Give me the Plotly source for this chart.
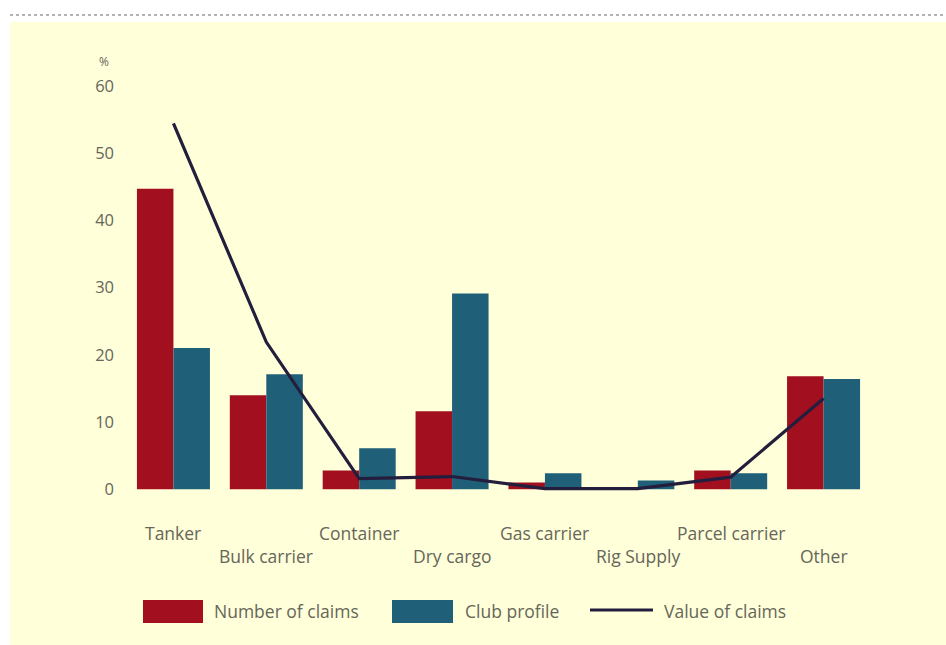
import plotly.graph_objects as go

# Claims by vessel type, per cent
categories = ["Tanker", "Bulk carrier", "Container", "Dry cargo",
              "Gas carrier", "Rig Supply", "Parcel carrier", "Other"]
number_of_claims = [44.7, 14.0, 2.8, 11.6, 1.0, 0.3, 2.8, 16.8]
club_profile = [21.0, 17.1, 6.1, 29.1, 2.4, 1.3, 2.4, 16.4]
value_of_claims = [54.4, 21.9, 1.6, 1.9, 0.1, 0.1, 1.8, 13.5]
y_ticks = [0, 10, 20, 30, 40, 50, 60]

W, H = 946, 645
L, R, T, B = 127, 76, 71, 153
PW, PH = W - L - R, H - T - B

RED = "#A20F1F"
TEAL = "#1F5F78"
NAVY = "#241E3E"
BG = "#FFFFD9"
TXT = "#66665A"
FONT = "Open Sans"


def px(x):
    return (x - L) / PW


def py(y):
    return (H - B - y) / PH


fig = go.Figure()
fig.add_trace(go.Bar(x=categories, y=number_of_claims, name="Number of claims",
                     marker=dict(color=RED, line=dict(width=0))))
fig.add_trace(go.Bar(x=categories, y=club_profile, name="Club profile",
                     marker=dict(color=TEAL, line=dict(width=0))))
fig.add_trace(go.Scatter(x=categories, y=value_of_claims, name="Value of claims",
                         mode="lines", line=dict(color=NAVY, width=3.2)))

shapes = [
    # white strips around the cream page
    dict(type="rect", xref="paper", yref="paper", x0=px(-5), x1=px(W + 5),
         y0=py(22), y1=py(-5), fillcolor="white", line=dict(width=0), layer="below"),
    dict(type="rect", xref="paper", yref="paper", x0=px(-5), x1=px(10),
         y0=py(H + 5), y1=py(-5), fillcolor="white", line=dict(width=0), layer="below"),
    # dotted rule along the top
    dict(type="line", xref="paper", yref="paper", x0=px(10), x1=px(W),
         y0=py(15), y1=py(15), line=dict(color="#9A9A9A", width=1.5, dash="dot")),
    # legend keys
    dict(type="rect", xref="paper", yref="paper", x0=px(143), x1=px(203),
         y0=py(600), y1=py(623), fillcolor=RED, line=dict(width=0)),
    dict(type="rect", xref="paper", yref="paper", x0=px(392), x1=px(453),
         y0=py(600), y1=py(623), fillcolor=TEAL, line=dict(width=0)),
    dict(type="line", xref="paper", yref="paper", x0=px(590), x1=px(653),
         y0=py(610), y1=py(610), line=dict(color=NAVY, width=3.2)),
]

annotations = [
    dict(text="%", xref="paper", yref="paper", x=px(104), y=py(62),
         showarrow=False, xanchor="center", yanchor="middle",
         font=dict(family=FONT, size=12, color=TXT)),
]
# staggered category labels
for i, c in enumerate(categories):
    annotations.append(dict(text=c, x=c, xref="x", yref="paper",
                            y=py(533 if i % 2 == 0 else 556), showarrow=False,
                            xanchor="center", yanchor="middle",
                            font=dict(family=FONT, size=17.5, color=TXT)))
for x, t in [(212, "Number of claims"), (463, "Club profile"), (662, "Value of claims")]:
    annotations.append(dict(text=t, xref="paper", yref="paper", x=px(x), y=py(611),
                            showarrow=False, xanchor="left", yanchor="middle",
                            font=dict(family=FONT, size=17.5, color=TXT)))

fig.update_layout(
    width=W, height=H,
    margin=dict(l=L, r=R, t=T, b=B, pad=0),
    paper_bgcolor=BG,
    plot_bgcolor="rgba(0,0,0,0)",
    barmode="group", bargap=0.214, bargroupgap=0,
    showlegend=False,
    shapes=shapes,
    annotations=annotations,
    font=dict(family=FONT, size=16, color=TXT),
    xaxis=dict(range=[-0.5, 7.5], showticklabels=False, showgrid=False,
               zeroline=False, showline=False, ticks=""),
    yaxis=dict(range=[-0.4, 62.2], tickvals=y_ticks, showgrid=False,
               zeroline=False, showline=False, ticks="", ticklabelstandoff=12,
               tickfont=dict(family=FONT, size=16.5, color=TXT)),
)

fig.write_html("out.html")
